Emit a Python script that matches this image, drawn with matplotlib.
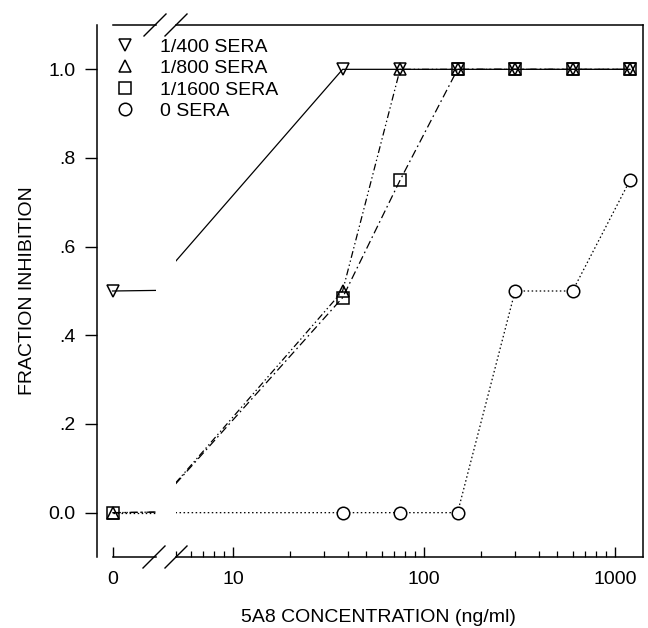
import numpy as np
import matplotlib
matplotlib.use("Agg")
import matplotlib.pyplot as plt
from matplotlib.lines import Line2D
from matplotlib.ticker import FixedLocator, NullLocator, NullFormatter

# ---------------- data ----------------
conc = [0, 37.5, 75, 150, 300, 600, 1200]          # 5A8 concentration (ng/ml)
sera_400 = [0.5, 1.0, 1.0, 1.0, 1.0, 1.0, 1.0]
sera_800 = [0.0, 0.5, 1.0, 1.0, 1.0, 1.0, 1.0]
sera_1600 = [0.0, 0.485, 0.75, 1.0, 1.0, 1.0, 1.0]
sera_0 = [0.0, 0.0, 0.0, 0.0, 0.5, 0.5, 0.75]
series_labels = ["1/400 SERA", "1/800 SERA", "1/1600 SERA", "0 SERA"]

y_ticks = [0.0, 0.2, 0.4, 0.6, 0.8, 1.0]
y_tick_labels = ["0.0", ".2", ".4", ".6", ".8", "1.0"]
x_major = [10, 100, 1000]
x_major_labels = ["10", "100", "1000"]
x_minor = [5, 6, 7, 8, 9, 20, 30, 40, 50, 60, 70, 80, 90,
           200, 300, 400, 500, 600, 700, 800, 900]

# ---------------- style ----------------
plt.rcParams["font.family"] = ["Liberation Sans", "DejaVu Sans"]
plt.rcParams["lines.scale_dashes"] = False
FS = 14
W, H = 648, 628
LW = 0.9
MEW = 1.1
MS = 9
styles = [
    dict(marker="v", ls="-", face="none"),
    dict(marker="^", ls=(0, (5, 2, 1, 2, 1, 2)), face="none"),
    dict(marker="s", ls=(0, (6, 2.5, 1.2, 2.5)), face="none"),
    dict(marker="o", ls=(0, (1.1, 1.8)), face="white"),
]

fig = plt.figure(figsize=(W / 100, H / 100), dpi=100)


def fx(px):
    return px / W


def fy(py):
    return 1 - py / H


top_px, bot_px = 25, 557
ax0 = fig.add_axes([fx(97), fy(bot_px), fx(156) - fx(97), (bot_px - top_px) / H])
ax1 = fig.add_axes([fx(175.5), fy(bot_px), fx(643) - fx(175.5), (bot_px - top_px) / H])

X_LO, X_HI = 5, 1403
ax0.set_xlim(-0.0357, 0.1)
ax1.set_xscale("log")
ax1.set_xlim(X_LO, X_HI)
for ax in (ax0, ax1):
    ax.set_ylim(-0.1, 1.1)
    ax.set_facecolor("none")
    for s in ax.spines.values():
        s.set_linewidth(1.1)


def break_clip(xs, ys, x_edge):
    """Cut the polyline where it enters the log section (SigmaPlot axis-break rendering)."""
    xs = np.asarray(xs, float)
    ys = np.asarray(ys, float)
    keep = xs >= x_edge
    i = int(np.argmax(keep))
    if i > 0:
        y_edge = np.interp(x_edge, xs[i - 1:i + 1], ys[i - 1:i + 1])
        return np.r_[x_edge, xs[keep]], np.r_[y_edge, ys[keep]]
    return xs[keep], ys[keep]


all_series = [sera_400, sera_800, sera_1600, sera_0]
conc_arr = np.asarray(conc, float)
handles = []
for vals, st in zip(all_series, styles):
    # zero section (linear, clipped by the axes)
    ax0.plot(conc, vals, color="black", lw=LW, ls=st["ls"], zorder=2)
    # log section
    lx, ly = break_clip(conc, vals, X_LO)
    ax1.plot(lx, ly, color="black", lw=LW, ls=st["ls"], zorder=2)
    handles.append(Line2D([], [], color="black", ls="none", marker=st["marker"],
                          ms=MS, mfc=st["face"], mec="black", mew=MEW))

# markers (drawn above all lines)
for vals, st in zip(all_series, styles):
    v = np.asarray(vals, float)
    pos = conc_arr > 0
    if st["marker"] != "o":
        ax0.plot(conc_arr[~pos], v[~pos], ls="none", marker=st["marker"], ms=MS,
                 mfc=st["face"], mec="black", mew=MEW, zorder=3)
    ax1.plot(conc_arr[pos], v[pos], ls="none", marker=st["marker"], ms=MS,
             mfc=st["face"], mec="black", mew=MEW, zorder=3)

# ---------------- axes decoration ----------------
# zero section
ax0.spines["right"].set_visible(False)
ax0.spines["bottom"].set_bounds(0, 0.1)
ax0.spines["top"].set_bounds(0, 0.1)
ax0.xaxis.set_major_locator(FixedLocator([0]))
ax0.set_xticklabels(["0"])
ax0.yaxis.set_major_locator(FixedLocator(y_ticks))
ax0.set_yticklabels(y_tick_labels)
ax0.tick_params(axis="y", direction="out", length=8.6, width=1.0, pad=7, labelsize=FS)
ax0.tick_params(axis="x", direction="in", length=7, width=1.0, pad=10, labelsize=FS)

# log section
ax1.spines["left"].set_visible(False)
ax1.yaxis.set_major_locator(NullLocator())
ax1.yaxis.set_minor_locator(NullLocator())
ax1.xaxis.set_major_locator(FixedLocator(x_major))
ax1.xaxis.set_minor_locator(FixedLocator(x_minor))
ax1.set_xticklabels(x_major_labels)
ax1.xaxis.set_minor_formatter(NullFormatter())
ax1.tick_params(axis="x", which="major", direction="in", length=7, width=1.0, pad=10, labelsize=FS)
ax1.tick_params(axis="x", which="minor", direction="in", length=4, width=0.9)

# axis-break slashes
for cx, cy in [(154, bot_px), (176, bot_px), (155, top_px), (176, top_px)]:
    fig.add_artist(Line2D([fx(cx - 11), fx(cx + 11)], [fy(cy + 11), fy(cy - 11)],
                          color="black", lw=1.0, transform=fig.transFigure))

# labels
fig.text(fx(378.5), fy(622), "5A8 CONCENTRATION (ng/ml)", ha="center", va="baseline", fontsize=FS)
fig.text(fx(28), fy(291), "FRACTION INHIBITION", rotation=90, ha="center", va="center", fontsize=FS)

fig.legend(handles, series_labels, loc="upper left", bbox_to_anchor=(fx(115), fy(38)),
           frameon=False, fontsize=FS, handlelength=1.0, handletextpad=1.3,
           labelspacing=0.2, borderpad=0, borderaxespad=0)

fig.savefig("out.png", dpi=100)
